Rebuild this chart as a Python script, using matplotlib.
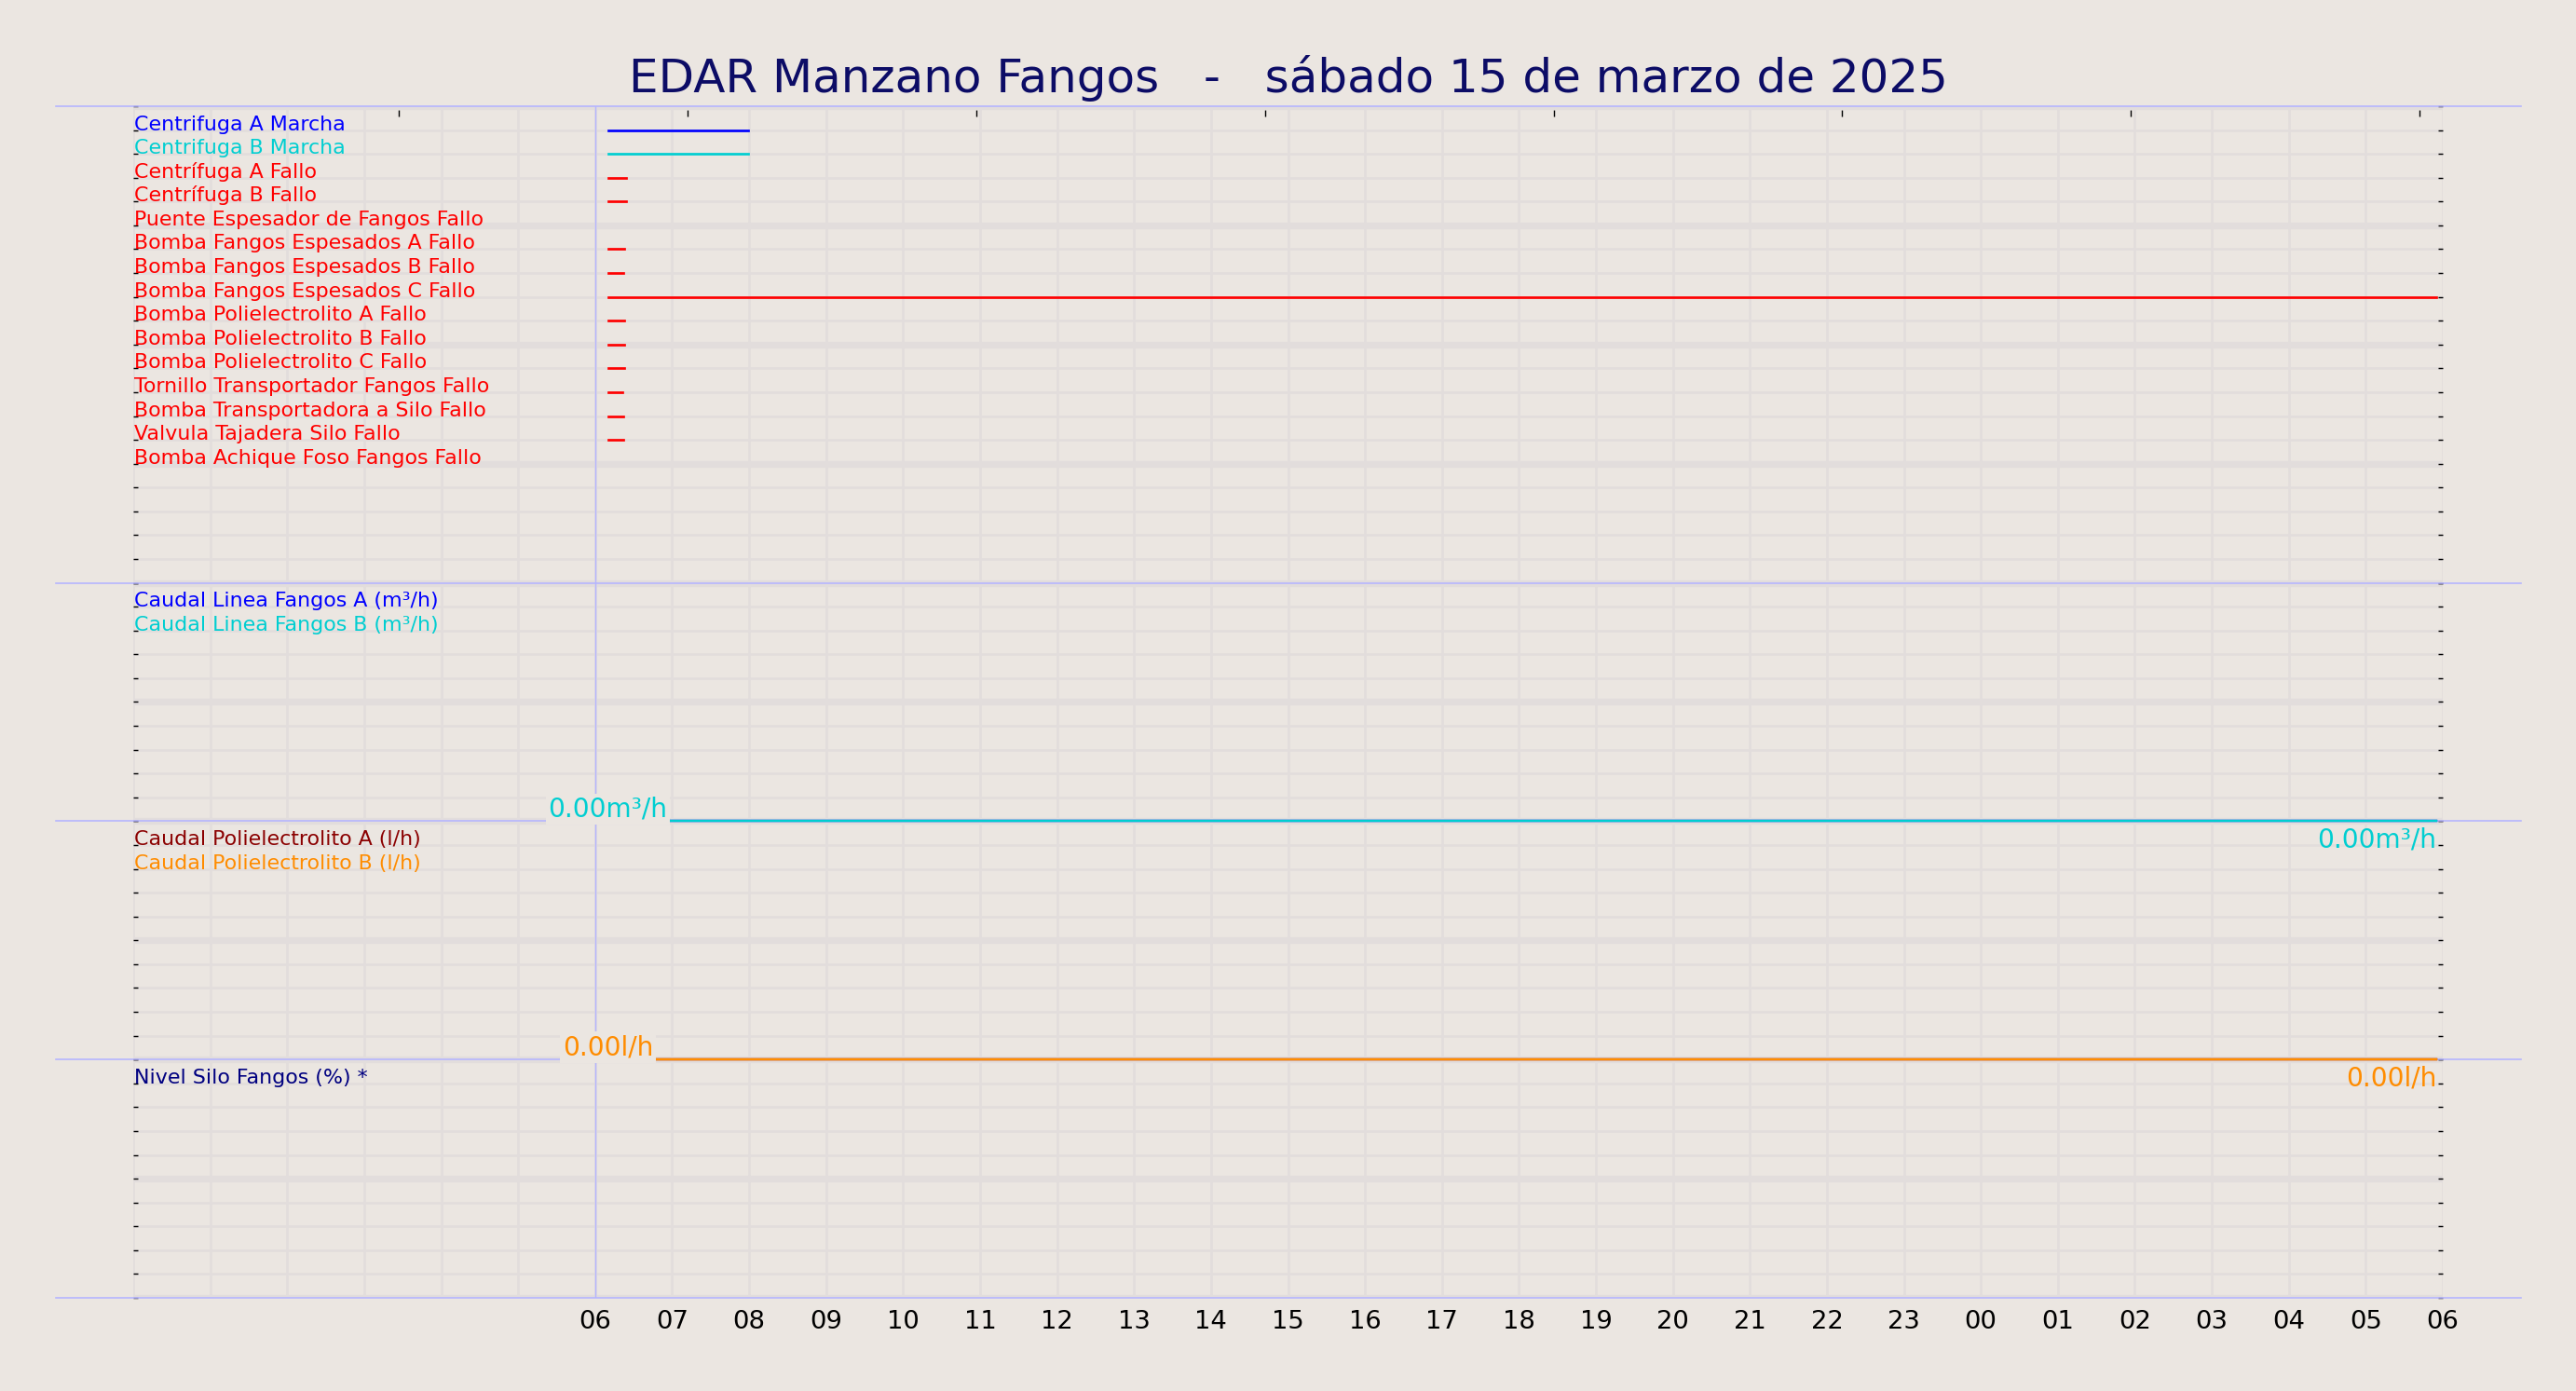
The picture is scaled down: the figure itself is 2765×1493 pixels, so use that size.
import matplotlib
matplotlib.use("Agg")
import matplotlib.pyplot as plt
import matplotlib.dates as mdates
import matplotlib.ticker as mticker
import matplotlib.transforms as mtransforms
import pandas as pd

# ---------------- data ----------------
title = "EDAR Manzano Fangos   -   sábado 15 de marzo de 2025"
x_start = "2025-03-15 00:00"
x_end = "2025-03-16 06:00"
day_start = "2025-03-15 06:00"

signal_names = [
    "Centrifuga A Marcha",
    "Centrifuga B Marcha",
    "Centrífuga A Fallo",
    "Centrífuga B Fallo",
    "Puente Espesador de Fangos Fallo",
    "Bomba Fangos Espesados A Fallo",
    "Bomba Fangos Espesados B Fallo",
    "Bomba Fangos Espesados C Fallo",
    "Bomba Polielectrolito A Fallo",
    "Bomba Polielectrolito B Fallo",
    "Bomba Polielectrolito C Fallo",
    "Tornillo Transportador Fangos Fallo",
    "Bomba Transportadora a Silo Fallo",
    "Valvula Tajadera Silo Fallo",
    "Bomba Achique Foso Fangos Fallo",
]
signal_colors = ["blue", "darkturquoise"] + ["red"] * 13
signal_on = [
    "2025-03-15 06:10", "2025-03-15 06:10", "2025-03-15 06:10", "2025-03-15 06:10",
    None,
    "2025-03-15 06:10", "2025-03-15 06:10", "2025-03-15 06:10", "2025-03-15 06:10",
    "2025-03-15 06:10", "2025-03-15 06:10", "2025-03-15 06:10", "2025-03-15 06:10",
    "2025-03-15 06:10",
    None,
]
signal_off = [
    "2025-03-15 07:59", "2025-03-15 07:59", "2025-03-15 06:24", "2025-03-15 06:24",
    None,
    "2025-03-15 06:23", "2025-03-15 06:22", "2025-03-16 05:55", "2025-03-15 06:23",
    "2025-03-15 06:23", "2025-03-15 06:23", "2025-03-15 06:21", "2025-03-15 06:22",
    "2025-03-15 06:22",
    None,
]

flow_times = ["2025-03-15 06:10", "2025-03-16 05:55"]
caudal_linea_a = [0.0, 0.0]
caudal_linea_b = [0.0, 0.0]
caudal_poli_a = [0.0, 0.0]
caudal_poli_b = [0.0, 0.0]

panel2_labels = ["Caudal Linea Fangos A (m³/h)", "Caudal Linea Fangos B (m³/h)"]
panel2_colors = ["blue", "darkturquoise"]
panel3_labels = ["Caudal Polielectrolito A (l/h)", "Caudal Polielectrolito B (l/h)"]
panel3_colors = ["darkred", "darkorange"]
panel4_labels = ["Nivel Silo Fangos (%) *"]
panel4_colors = ["navy"]

top_tick_hours = [3.45, 7.20, 10.95, 14.70, 18.45, 22.20, 25.95, 29.70]

# ---------------- style ----------------
BG = "#ebe6e1"
GRID = "#e2dddc"
LAV = "#b4b4ff"
TITLE_C = "#0c0c66"
W, H, DPI = 2765, 1493, 100
px = 72.0 / DPI  # points per pixel

fig = plt.figure(figsize=(W / DPI, H / DPI), dpi=DPI, facecolor=BG)

left_px, right_px, top_px, bot_px = 143, 2622, 114, 1393
rows = [20, 10, 10, 10]
row_h = (bot_px - top_px) / sum(rows)

t0 = pd.Timestamp(x_start)
t1 = pd.Timestamp(x_end)
tday = pd.Timestamp(day_start)

axes = []
y_cursor = top_px
for i, r in enumerate(rows):
    h = r * row_h
    ax = fig.add_axes([left_px / W, 1 - (y_cursor + h) / H,
                       (right_px - left_px) / W, h / H])
    ax.set_facecolor("none")
    ax.set_zorder(10 - i)
    y_cursor += h
    axes.append(ax)

hours = pd.date_range(t0, t1, freq="h")


def hour_fmt(x, pos):
    d = mdates.num2date(x).replace(tzinfo=None)
    return d.strftime("%H") if pd.Timestamp(d) >= tday else ""


sep_x = [(60 - left_px) / (right_px - left_px), (2706 - left_px) / (right_px - left_px)]

for i, ax in enumerate(axes):
    ax.set_xlim(t0, t1)
    if i == 0:
        ax.set_ylim(rows[0], 0)
    else:
        ax.set_ylim(0, rows[i])
    ax.yaxis.set_major_locator(mticker.MultipleLocator(5))
    ax.yaxis.set_minor_locator(mticker.MultipleLocator(1))
    ax.xaxis.set_major_locator(mticker.FixedLocator(mdates.date2num(hours)))
    ax.xaxis.set_major_formatter(mticker.FuncFormatter(hour_fmt))
    ax.set_axisbelow(True)
    ax.grid(which="major", axis="x", color=GRID, lw=2.7 * px)
    ax.grid(which="minor", axis="y", color=GRID, lw=2.7 * px)
    ax.grid(which="major", axis="y", color=GRID, lw=7.3 * px)
    for s in ax.spines.values():
        s.set_visible(False)
    ax.tick_params(axis="y", which="both", direction="in", left=True, right=True,
                   labelleft=False, length=5 * px, width=1.4 * px, color="black")
    if i < 3:
        ax.tick_params(axis="x", which="both", bottom=False, labelbottom=False)
    else:
        ax.tick_params(axis="x", which="both", length=0, pad=13.5 * px,
                       labelsize=27.4 * px, labelcolor="black")
    # vertical day-start marker
    ax.axvline(tday, color=LAV, lw=1.4 * px, zorder=2)
    # panel separators
    ax.plot(sep_x, [0, 0], transform=ax.transAxes, color=LAV, lw=1.6 * px,
            clip_on=False, zorder=3)
    if i == 0:
        ax.plot(sep_x, [1, 1], transform=ax.transAxes, color=LAV, lw=1.6 * px,
                clip_on=False, zorder=3)

LABEL_FS = 22.1 * px
VAL_FS = 28.0 * px

# ---- panel 1: digital signals ----
ax1 = axes[0]
tr1 = mtransforms.blended_transform_factory(ax1.transAxes, ax1.transData)
for k, (name, col, on, off) in enumerate(zip(signal_names, signal_colors, signal_on, signal_off)):
    y = k + 1
    ax1.text(0.0005, y, name, transform=tr1,
             color=col, fontsize=LABEL_FS, ha="left", va="baseline", zorder=5)
    if on is not None:
        ax1.plot([pd.Timestamp(on), pd.Timestamp(off)], [y, y], color=col,
                 lw=2.7 * px, solid_capstyle="projecting", zorder=4)

sec = ax1.secondary_xaxis(1 - 4 / 512)
sec.set_xticks(mdates.date2num([t0 + pd.Timedelta(hours=h) for h in top_tick_hours]))
sec.tick_params(axis="x", direction="in", length=7 * px, width=1.4 * px,
                labeltop=False, color="black")
for s in sec.spines.values():
    s.set_visible(False)


def flow_panel(ax, labels, colors, series, unit):
    tr = mtransforms.blended_transform_factory(ax.transAxes, ax.transData)
    n = rows[axes.index(ax)]
    for k, (lab, col) in enumerate(zip(labels, colors)):
        ax.text(0.0005, n - (k + 1), lab, transform=tr, color=col,
                fontsize=LABEL_FS, ha="left", va="baseline", zorder=5)
    times = [pd.Timestamp(t) for t in flow_times]
    for vals, col in zip(series, colors):
        ax.plot(times, vals, color=col, lw=2.4 * px, clip_on=False, zorder=4)
    last = series[-1]
    lab_col = colors[-1]
    ax.annotate(f"{last[0]:.2f}{unit}", xy=(times[0], last[0]), xytext=(0, 5 * px),
                textcoords="offset points", ha="center", va="baseline",
                fontsize=VAL_FS, color=lab_col, zorder=8, annotation_clip=False,
                bbox=dict(boxstyle="square,pad=0.1", fc=BG, ec="none"))
    ax.annotate(f"{last[-1]:.2f}{unit}", xy=(times[-1], last[-1]), xytext=(0, -6 * px),
                textcoords="offset points", ha="right", va="top",
                fontsize=VAL_FS, color=lab_col, zorder=8, annotation_clip=False)


flow_panel(axes[1], panel2_labels, panel2_colors, [caudal_linea_a, caudal_linea_b], "m³/h")
flow_panel(axes[2], panel3_labels, panel3_colors, [caudal_poli_a, caudal_poli_b], "l/h")

ax4 = axes[3]
tr4 = mtransforms.blended_transform_factory(ax4.transAxes, ax4.transData)
for k, (lab, col) in enumerate(zip(panel4_labels, panel4_colors)):
    ax4.text(0.0005, rows[3] - (k + 1), lab, transform=tr4, color=col,
             fontsize=LABEL_FS, ha="left", va="baseline", zorder=5)

fig.text(0.5, 1 - 99.3 / H, title, ha="center", va="baseline",
         fontsize=50.0 * px, color=TITLE_C)

fig.savefig("out.png", dpi=DPI, facecolor=BG)
